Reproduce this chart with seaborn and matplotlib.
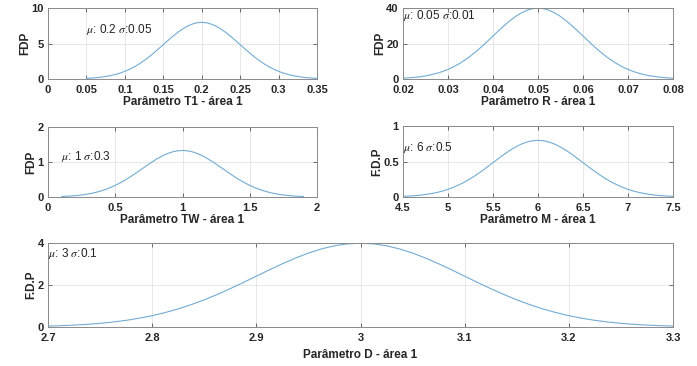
import matplotlib
matplotlib.use("Agg")
import matplotlib.pyplot as plt
import numpy as np
import pandas as pd
import seaborn as sns
from matplotlib.ticker import FuncFormatter

# Curve heights, 49 evenly spaced samples across each curve's span
t1_span = (0.05, 0.35)
t1_y = [0.09, 0.13, 0.18, 0.25, 0.35, 0.48, 0.63, 0.83, 1.08, 1.38, 1.73, 2.13, 2.59, 3.10, 3.65, 4.24,
        4.84, 5.44, 6.02, 6.56, 7.04, 7.44, 7.73, 7.92, 7.98,
        7.92, 7.73, 7.44, 7.04, 6.56, 6.02, 5.44, 4.84, 4.24, 3.65, 3.10, 2.59, 2.13, 1.73, 1.38,
        1.08, 0.83, 0.63, 0.48, 0.35, 0.25, 0.18, 0.13, 0.09]

r_span = (0.02, 0.08)
r_y = [0.44, 0.64, 0.91, 1.27, 1.75, 2.38, 3.17, 4.17, 5.40, 6.88, 8.63, 10.65, 12.95, 15.50, 18.27, 21.19,
       24.20, 27.21, 30.11, 32.82, 35.21, 37.19, 38.67, 39.58, 39.89,
       39.58, 38.67, 37.19, 35.21, 32.82, 30.11, 27.21, 24.20, 21.19, 18.27, 15.50, 12.95, 10.65, 8.63, 6.88,
       5.40, 4.17, 3.17, 2.38, 1.75, 1.27, 0.91, 0.64, 0.44]

tw_span = (0.1, 1.9)
tw_y = [0.015, 0.021, 0.030, 0.042, 0.058, 0.079, 0.106, 0.139, 0.180, 0.229, 0.288, 0.355, 0.432, 0.517,
        0.609, 0.706, 0.807, 0.907, 1.004, 1.094, 1.174, 1.240, 1.289, 1.319, 1.330,
        1.319, 1.289, 1.240, 1.174, 1.094, 1.004, 0.907, 0.807, 0.706, 0.609, 0.517, 0.432, 0.355, 0.288,
        0.229, 0.180, 0.139, 0.106, 0.079, 0.058, 0.042, 0.030, 0.021, 0.015]

m_span = (4.5, 7.5)
m_y = [0.009, 0.013, 0.018, 0.025, 0.035, 0.048, 0.063, 0.083, 0.108, 0.138, 0.173, 0.213, 0.259, 0.310,
       0.365, 0.424, 0.484, 0.544, 0.602, 0.656, 0.704, 0.744, 0.773, 0.792, 0.798,
       0.792, 0.773, 0.744, 0.704, 0.656, 0.602, 0.544, 0.484, 0.424, 0.365, 0.310, 0.259, 0.213, 0.173,
       0.138, 0.108, 0.083, 0.063, 0.048, 0.035, 0.025, 0.018, 0.013, 0.009]

d_span = (2.7, 3.3)
d_y = [0.044, 0.064, 0.091, 0.127, 0.175, 0.238, 0.317, 0.417, 0.540, 0.688, 0.863, 1.065, 1.295, 1.550,
       1.827, 2.119, 2.420, 2.721, 3.011, 3.282, 3.521, 3.719, 3.867, 3.958, 3.989,
       3.958, 3.867, 3.719, 3.521, 3.282, 3.011, 2.721, 2.420, 2.119, 1.827, 1.550, 1.295, 1.065, 0.863,
       0.688, 0.540, 0.417, 0.317, 0.238, 0.175, 0.127, 0.091, 0.064, 0.044]

x_labels = ["Parâmetro T1 - área 1", "Parâmetro R - área 1", "Parâmetro TW - área 1",
            "Parâmetro M - área 1", "Parâmetro D - área 1"]
y_labels = ["FDP", "FDP", "FDP", "F.D.P", "F.D.P"]
annotations = [r"$\mu$: 0.2 $\sigma$:0.05", r"$\mu$: 0.05 $\sigma$:0.01", r"$\mu$: 1 $\sigma$:0.3",
               r"$\mu$: 6 $\sigma$:0.5", r"$\mu$: 3 $\sigma$:0.1"]
note_y = [7.0, 35.5, 1.17, 0.7, 3.5]

x_ticks = [[0, 0.05, 0.1, 0.15, 0.2, 0.25, 0.3, 0.35],
           [0.02, 0.03, 0.04, 0.05, 0.06, 0.07, 0.08],
           [0, 0.5, 1, 1.5, 2],
           [4.5, 5, 5.5, 6, 6.5, 7, 7.5],
           [2.7, 2.8, 2.9, 3.0, 3.1, 3.2, 3.3]]
y_ticks = [[0, 5, 10], [0, 20, 40], [0, 1, 2], [0, 0.5, 1], [0, 2, 4]]

sns.set_theme(style="whitegrid")
plt.rcParams["font.family"] = ["Liberation Sans", "DejaVu Sans"]
plt.rcParams["mathtext.fontset"] = "stix"

W, H = 697, 366
fig = plt.figure(figsize=(W / 100, H / 100), dpi=100)
fig.patch.set_facecolor("white")

# axes boxes in pixels: left, top, right, bottom
boxes = [(48, 8, 317, 79), (403, 8, 673, 79), (48, 127, 317, 197),
         (403, 126, 673, 197), (48, 243, 673, 327)]
spans = [t1_span, r_span, tw_span, m_span, d_span]
heights = [t1_y, r_y, tw_y, m_y, d_y]
xlabel_pads = [1, 1, 1, 1, 5]

fmt = FuncFormatter(lambda v, p: "%g" % round(v, 4))

for i, (box, span, ys) in enumerate(zip(boxes, spans, heights)):
    l, t, r, b = box
    ax = fig.add_axes([l / W, 1 - b / H, (r - l) / W, (b - t) / H])
    df = pd.DataFrame({"x": np.linspace(span[0], span[1], len(ys)), "y": ys})
    sns.lineplot(data=df, x="x", y="y", ax=ax, color="#72acd3", linewidth=0.8)
    ax.set_xlim(x_ticks[i][0], x_ticks[i][-1])
    ax.set_ylim(y_ticks[i][0], y_ticks[i][-1])
    ax.set_xticks(x_ticks[i])
    ax.set_yticks(y_ticks[i])
    ax.xaxis.set_major_formatter(fmt)
    ax.yaxis.set_major_formatter(fmt)
    ax.tick_params(direction="in", length=3, width=0.6, color="#555555",
                   labelsize=8, top=True, right=True, bottom=True, left=True)
    ax.tick_params(axis="x", pad=4)
    ax.tick_params(axis="y", pad=3)
    for lab in ax.get_xticklabels() + ax.get_yticklabels():
        lab.set_fontweight("bold")
    ax.grid(True, color="#e3e3e3", linewidth=0.6)
    ax.set_facecolor("white")
    for sp in ax.spines.values():
        sp.set_visible(True)
        sp.set_color("#8a8a8a")
        sp.set_linewidth(0.7)
    ax.set_xlabel(x_labels[i], fontsize=8.5, fontweight="bold", labelpad=xlabel_pads[i])
    ax.set_ylabel(y_labels[i], fontsize=8.5, fontweight="bold", labelpad=0)
    ax.text(span[0], note_y[i], annotations[i], fontsize=8.5, ha="left", va="center", color="#222222")

fig.savefig("out.png", dpi=100)
